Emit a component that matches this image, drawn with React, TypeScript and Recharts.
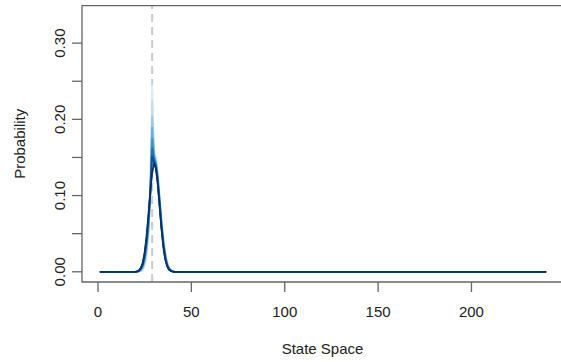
import React from 'react';
import { LineChart, Line, XAxis, YAxis, ReferenceLine, ReferenceArea } from 'recharts';

// State-space positions at which the distributions are sampled
const states = [1, 20, 21, 22, 23, 24, 25, 26, 27, 28, 29, 30, 31, 32, 33, 34, 35, 36, 37, 38, 39, 40, 41, 240];

// Probability series, lightest (first) to darkest (last)
const dist0 = [0, 0, 0, 0.0001, 0.0005, 0.002, 0.008, 0.02, 0.045, 0.1, 0.245, 0.16, 0.15, 0.13, 0.1, 0.07, 0.045, 0.026, 0.013, 0.006, 0.0025, 0.001, 0, 0];
const dist1 = [0, 0, 0.0001, 0.0004, 0.0012, 0.0035, 0.0105, 0.0237, 0.0491, 0.1006, 0.225, 0.1574, 0.148, 0.1279, 0.098, 0.0681, 0.0432, 0.0247, 0.0122, 0.0056, 0.0023, 0.0009, 0, 0];
const dist2 = [0, 0, 0.0002, 0.0006, 0.0018, 0.0049, 0.0129, 0.0275, 0.0533, 0.1012, 0.205, 0.1547, 0.1461, 0.1259, 0.096, 0.0661, 0.0415, 0.0233, 0.0114, 0.0051, 0.0021, 0.0008, 0, 0];
const dist3 = [0, 0, 0.0003, 0.0009, 0.0025, 0.0064, 0.0154, 0.0312, 0.0574, 0.1018, 0.19, 0.1521, 0.1441, 0.1238, 0.094, 0.0642, 0.0397, 0.022, 0.0106, 0.0047, 0.0019, 0.0007, 0, 0];
const dist4 = [0, 0, 0.0003, 0.0011, 0.0032, 0.0078, 0.0179, 0.0349, 0.0615, 0.1025, 0.175, 0.1495, 0.1422, 0.1217, 0.092, 0.0623, 0.038, 0.0206, 0.0098, 0.0042, 0.0016, 0.0006, 0, 0];
const dist5 = [0, 0, 0.0004, 0.0014, 0.0039, 0.0093, 0.0204, 0.0386, 0.0656, 0.1031, 0.163, 0.1468, 0.1402, 0.1196, 0.09, 0.0604, 0.0362, 0.0193, 0.009, 0.0038, 0.0014, 0.0005, 0, 0];
const dist6 = [0, 0, 0.0005, 0.0016, 0.0045, 0.0107, 0.0228, 0.0424, 0.0698, 0.1037, 0.152, 0.1442, 0.1383, 0.1176, 0.0881, 0.0584, 0.0345, 0.0179, 0.0082, 0.0033, 0.0012, 0.0004, 0, 0];
const dist7 = [0, 0, 0.0006, 0.0019, 0.0052, 0.0122, 0.0253, 0.0461, 0.0739, 0.1043, 0.1295, 0.1416, 0.1363, 0.1155, 0.0861, 0.0565, 0.0327, 0.0166, 0.0074, 0.0029, 0.001, 0.0003, 0, 0];

const seriesList = [dist0, dist1, dist2, dist3, dist4, dist5, dist6, dist7];
const seriesColors = ['#deebf7', '#c6dbef', '#9ecae1', '#6baed6', '#4292c6', '#2171b5', '#08519c', '#08306b'];

const xTicks = [0, 50, 100, 150, 200];
const yTicks = [0, 0.05, 0.1, 0.15, 0.2, 0.25, 0.3];
const trueState = 29;
const xDomain: [number, number] = [-8.56, 249.56];
const yDomain: [number, number] = [-0.0134, 0.3491];

const data = states.map((x, i) => {
  const row: Record<string, number> = { x };
  seriesList.forEach((s, k) => {
    row['s' + k] = s[i];
  });
  return row;
});

const FONT = '"Liberation Sans", Arial, Helvetica, sans-serif';

const YTick = (props: any) => {
  const { x, y, payload } = props;
  const v = payload.value as number;
  const show = Math.round(v * 100) % 10 === 0;
  if (!show) return <g />;
  return (
    <text
      transform={`translate(${x}, ${y}) rotate(-90)`}
      textAnchor="middle"
      fontFamily={FONT}
      fontSize={15}
      fill="#222"
    >
      {v.toFixed(2)}
    </text>
  );
};

export default function App() {
  return (
    <div style={{ position: 'absolute', left: 0, top: 0, width: 561, height: 362, overflow: 'hidden', background: '#fff' }}>
      <LineChart
        width={570}
        height={362}
        data={data}
        margin={{ top: 5.7, right: 6, bottom: 0, left: 0 }}
      >
        <ReferenceArea
          x1={xDomain[0]}
          x2={xDomain[1]}
          y1={yDomain[0]}
          y2={yDomain[1]}
          fill="none"
          stroke="#666"
          strokeWidth={1.3}
          ifOverflow="visible"
        />
        <ReferenceLine
          x={trueState}
          stroke="#cccccc"
          strokeWidth={2}
          strokeDasharray="8 5"
          zIndex={0}
        />
        <XAxis
          dataKey="x"
          type="number"
          domain={xDomain}
          allowDataOverflow
          ticks={xTicks}
          axisLine={false}
          tickSize={10}
          tickMargin={14}
          tickLine={{ stroke: '#666', strokeWidth: 1.3 }}
          tick={{ fontFamily: FONT, fontSize: 15, fill: '#222' }}
          height={80}
          interval={0}
          label={() => (
            <text x={322.5} y={354} textAnchor="middle" fontFamily={FONT} fontSize={15} fill="#222">
              State Space
            </text>
          )}
        />
        <YAxis
          type="number"
          domain={yDomain}
          allowDataOverflow
          ticks={yTicks}
          axisLine={false}
          width={82}
          tickSize={10}
          tickMargin={7.5}
          tickLine={{ stroke: '#666', strokeWidth: 1.3 }}
          tick={<YTick />}
          interval={0}
          label={() => (
            <text
              transform={`translate(24.5, 143.8) rotate(-90)`}
              textAnchor="middle"
              fontFamily={FONT}
              fontSize={15}
              fill="#222"
            >
              Probability
            </text>
          )}
        />
        {seriesList.map((_, k) => (
          <Line
            key={k}
            type="linear"
            dataKey={'s' + k}
            stroke={seriesColors[k]}
            strokeWidth={1.8}
            dot={false}
            activeDot={false}
            isAnimationActive={false}
          />
        ))}
      </LineChart>
    </div>
  );
}
